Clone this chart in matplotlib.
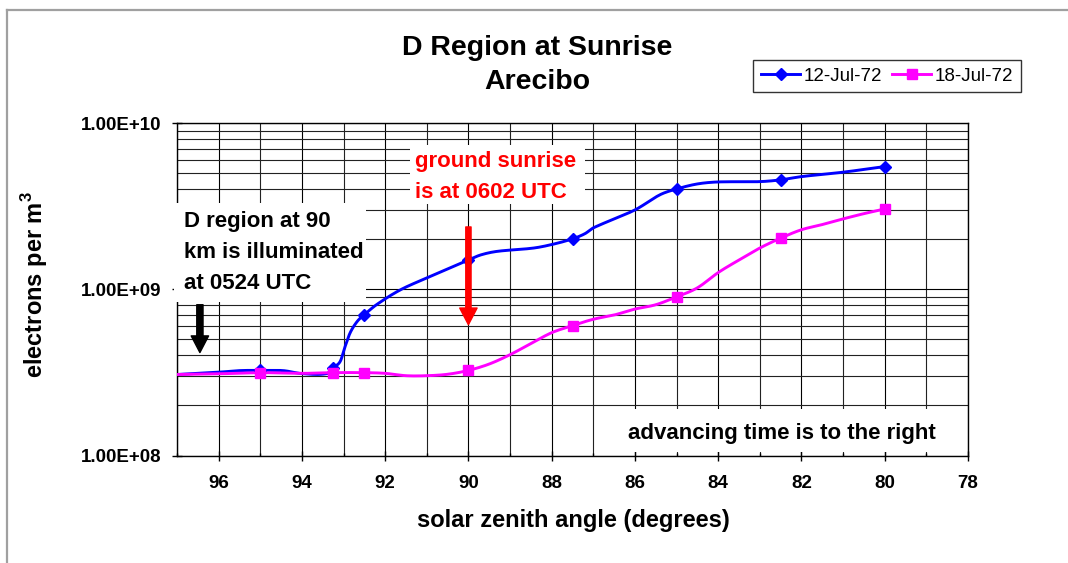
import numpy as np
import matplotlib
matplotlib.use("Agg")
import matplotlib.pyplot as plt
from matplotlib.patches import Rectangle
from matplotlib.lines import Line2D
from matplotlib.ticker import MultipleLocator, LogLocator, FuncFormatter, NullFormatter

plt.rcParams["font.family"] = ["Liberation Sans", "DejaVu Sans"]
plt.rcParams["mathtext.fontset"] = "custom"
plt.rcParams["mathtext.rm"] = "Liberation Sans"
plt.rcParams["mathtext.bf"] = "Liberation Sans:bold"

W, H = 1068, 563

# 12-Jul-72: traced curve and marked points (solar zenith angle, electrons per m^3)
jul12_x = [97.0, 96.0, 95.5, 95.0, 94.45, 94.0, 93.4, 93.25, 93.08, 92.96, 92.84, 92.67, 92.5,
           92.2, 91.64, 91.0, 90.52, 90.0, 89.7, 89.31, 88.43, 87.95, 87.5, 87.2, 87.0, 86.0,
           85.4, 85.0, 84.5, 84.0, 83.0, 82.5, 82.0, 81.0, 80.0]
jul12_y = [3.07e8, 3.17e8, 3.24e8, 3.25e8, 3.24e8, 3.11e8, 3.11e8, 3.38e8, 3.68e8, 4.54e8, 5.48e8,
           6.41e8, 7.03e8, 8.1e8, 9.9e8, 1.17e9, 1.32e9, 1.50e9, 1.61e9, 1.69e9, 1.77e9, 1.87e9,
           2.01e9, 2.16e9, 2.34e9, 3.0e9, 3.7e9, 4.01e9, 4.3e9, 4.42e9, 4.44e9, 4.55e9, 4.76e9,
           5.06e9, 5.47e9]
jul12_mark_x = [95.0, 93.25, 92.5, 90.0, 87.5, 85.0, 82.5, 80.0]
jul12_mark_y = [3.25e8, 3.38e8, 7.03e8, 1.50e9, 2.01e9, 4.01e9, 4.55e9, 5.47e9]

# 18-Jul-72
jul18_x = [97.0, 96.0, 95.0, 94.0, 93.25, 92.5, 92.0, 91.5, 91.0, 90.5, 90.0, 89.5, 89.0,
           88.5, 88.0, 87.5, 87.0, 86.5, 86.0, 85.5, 85.0, 84.5, 84.0, 83.5, 83.0, 82.5, 82.0,
           81.5, 81.0, 80.5, 80.0]
jul18_y = [3.07e8, 3.1e8, 3.15e8, 3.12e8, 3.15e8, 3.15e8, 3.12e8, 3.02e8, 3.02e8, 3.08e8, 3.25e8,
           3.55e8, 4.04e8, 4.71e8, 5.48e8, 6.04e8, 6.6e8, 7.0e8, 7.6e8, 8.07e8, 9.0e8,
           1.02e9, 1.26e9, 1.5e9, 1.77e9, 2.03e9, 2.28e9, 2.45e9, 2.65e9, 2.85e9, 3.04e9]
jul18_mark_x = [95.0, 93.25, 92.5, 90.0, 87.5, 85.0, 82.5, 80.0]
jul18_mark_y = [3.15e8, 3.15e8, 3.15e8, 3.25e8, 6.04e8, 9.0e8, 2.03e9, 3.04e9]

labels = ["12-Jul-72", "18-Jul-72"]


def smooth(xs, ys, n=16):
    # cubic hermite through the points in log space (like excel's smoothed line)
    x = np.asarray(xs, float)
    ly = np.log10(np.asarray(ys, float))
    m = np.zeros_like(ly)
    m[0] = (ly[1] - ly[0]) / (x[1] - x[0])
    m[-1] = (ly[-1] - ly[-2]) / (x[-1] - x[-2])
    m[1:-1] = (ly[2:] - ly[:-2]) / (x[2:] - x[:-2])
    out_x, out_y = [], []
    t = np.linspace(0, 1, n, endpoint=False)
    for i in range(len(x) - 1):
        h = x[i + 1] - x[i]
        h00 = 2 * t**3 - 3 * t**2 + 1
        h10 = t**3 - 2 * t**2 + t
        h01 = -2 * t**3 + 3 * t**2
        h11 = t**3 - t**2
        out_x.append(x[i] + t * h)
        out_y.append(h00 * ly[i] + h10 * h * m[i] + h01 * ly[i + 1] + h11 * h * m[i + 1])
    out_x.append([x[-1]])
    out_y.append([ly[-1]])
    return np.concatenate(out_x), 10 ** np.concatenate(out_y)


def fx(px):
    return px / W


def fy(py):
    return 1 - py / H


fig = plt.figure(figsize=(W / 100, H / 100), dpi=100)
ax = fig.add_axes([fx(177), fy(455.5), (968 - 177) / W, (455.5 - 123) / H])

ax.set_yscale("log")
ax.set_xlim(97, 78)
ax.set_ylim(1e8, 1e10)

sx, sy = smooth(jul12_x, jul12_y)
ax.plot(sx, sy, color="#0000FF", lw=2.1, zorder=4)
ax.plot(jul12_mark_x, jul12_mark_y, ls="none", marker="D", ms=6.5, color="#0000FF", zorder=5)
sx, sy = smooth(jul18_x, jul18_y)
ax.plot(sx, sy, color="#FF00FF", lw=2.1, zorder=4)
ax.plot(jul18_mark_x, jul18_mark_y, ls="none", marker="s", ms=6.5, color="#FF00FF", zorder=5)

# axes, ticks, grid
ax.xaxis.set_major_locator(MultipleLocator(2))
ax.xaxis.set_minor_locator(MultipleLocator(1))
ax.xaxis.set_major_formatter(FuncFormatter(lambda v, p: f"{v:.0f}"))
ax.yaxis.set_major_locator(LogLocator(base=10))
ax.yaxis.set_minor_locator(LogLocator(base=10, subs=np.arange(2, 10)))
ax.yaxis.set_major_formatter(FuncFormatter(lambda v, p: f"{v:.2E}"))
ax.yaxis.set_minor_formatter(NullFormatter())
ax.grid(which="major", color="black", lw=0.8)
ax.grid(which="minor", color="#222222", lw=0.8)
ax.set_axisbelow(True)
for s in ax.spines.values():
    s.set_linewidth(1.0)
ax.tick_params(axis="x", which="major", direction="inout", length=6.5, width=1, pad=11,
               labelsize=13.5)
ax.tick_params(axis="x", which="minor", direction="in", length=2.5, width=1)
ax.tick_params(axis="y", which="major", direction="inout", length=6.5, width=1, pad=8,
               labelsize=13.5)
ax.tick_params(axis="y", which="minor", length=0)
for lab in ax.get_xticklabels() + ax.get_yticklabels():
    lab.set_fontweight("bold")

# arrows
ax.annotate("", xy=(96.45, 4.16e8), xytext=(96.45, 8.07e8),
            arrowprops=dict(arrowstyle="simple,head_length=1.2,head_width=1.25,tail_width=0.45",
                            mutation_scale=10, color="black", shrinkA=0, shrinkB=0), zorder=6)
ax.annotate("", xy=(90, 6.12e8), xytext=(90, 2.37e9),
            arrowprops=dict(arrowstyle="simple,head_length=1.2,head_width=1.25,tail_width=0.38",
                            mutation_scale=10, color="#FF0000", shrinkA=0, shrinkB=0), zorder=6)

# white label boxes over the grid
for (x0, y0, x1, y1) in [(174, 203, 366, 302), (410, 145, 585, 204), (622, 409, 945, 452)]:
    fig.add_artist(Rectangle((fx(x0), fy(y1)), (x1 - x0) / W, (y1 - y0) / H,
                             transform=fig.transFigure, facecolor="white", edgecolor="none",
                             zorder=1))

fig.text(fx(184), fy(252.5), "D region at 90\nkm is illuminated\nat 0524 UTC", ha="left",
         va="center", fontsize=16, fontweight="bold", linespacing=1.62)
fig.text(fx(415), fy(177), "ground sunrise\nis at 0602 UTC", ha="left", va="center",
         fontsize=16, fontweight="bold", color="#FF0000", linespacing=1.6)
fig.text(fx(628), fy(434), "advancing time is to the right", ha="left", va="center",
         fontsize=16, fontweight="bold")

# titles and axis labels
fig.text(fx(537), fy(65), "D Region at Sunrise\nArecibo", ha="center", va="center",
         fontsize=20.5, fontweight="bold", linespacing=1.42)
fig.text(fx(573), fy(521), "solar zenith angle (degrees)", ha="center", va="center",
         fontsize=17, fontweight="bold")
fig.text(fx(35), fy(285), r"electrons per m$^{\mathbf{3}}$", ha="center", va="center",
         rotation=90, fontsize=17, fontweight="bold")

# legend
handles = [Line2D([], [], color="#0000FF", lw=2.1, marker="D", ms=6.5),
           Line2D([], [], color="#FF00FF", lw=2.1, marker="s", ms=6.5)]
leg = fig.legend(handles, labels, loc="upper right", bbox_to_anchor=(fx(1021), fy(60)),
                 ncol=2, fontsize=13.5, frameon=True, fancybox=False, borderpad=0.4,
                 handlelength=2.1, handletextpad=0.2, columnspacing=0.5, borderaxespad=0)
leg.get_frame().set_edgecolor("black")
leg.get_frame().set_linewidth(1.0)

# outer chart border (top and left only visible)
fig.add_artist(Line2D([fx(7), fx(7)], [fy(10), 0], transform=fig.transFigure,
                      color="#a0a0a0", lw=1.6))
fig.add_artist(Line2D([fx(7), 1], [fy(10), fy(10)], transform=fig.transFigure,
                      color="#a0a0a0", lw=1.6))

fig.savefig("out.png", dpi=100, facecolor="white")
